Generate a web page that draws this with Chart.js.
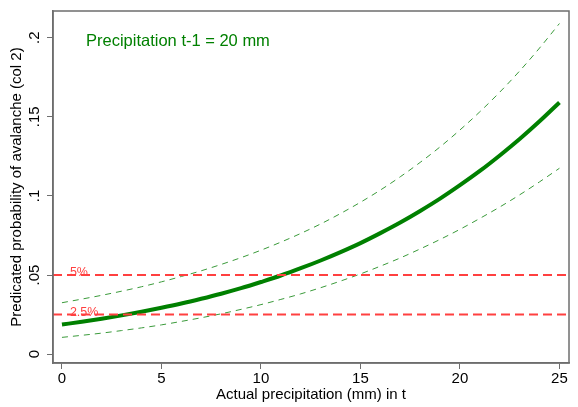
<!DOCTYPE html>
<html>
<head>
<meta charset="utf-8">
<script src="https://cdn.jsdelivr.net/npm/chart.js@4/dist/chart.umd.min.js"></script>
<style>
  html, body { margin: 0; padding: 0; background: #fff; }
  #wrap { width: 578px; height: 407px; }
</style>
</head>
<body>
<div id="wrap"><canvas id="chart" width="578" height="407"></canvas></div>
<script>
// precipitation in t (mm)
const precip = [0, 1, 2, 3, 4, 5, 6, 7, 8, 9, 10, 11, 12, 13, 14, 15, 16, 17, 18, 19, 20, 21, 22, 23, 24, 25]

// predicted probability and 95% band
const predicted = [0.0187, 0.0205, 0.0224, 0.0245, 0.0268, 0.0293, 0.0320, 0.0350, 0.0382, 0.0417, 0.0456, 0.0497, 0.0543, 0.0592, 0.0645, 0.0702, 0.0765, 0.0832, 0.0905, 0.0983, 0.1068, 0.1158, 0.1256, 0.1360, 0.1472, 0.1591]
const upper = [0.0325, 0.0348, 0.0372, 0.0398, 0.0426, 0.0457, 0.0491, 0.0527, 0.0567, 0.0610, 0.0657, 0.0708, 0.0763, 0.0823, 0.0889, 0.0960, 0.1037, 0.1121, 0.1212, 0.1310, 0.1417, 0.1532, 0.1656, 0.1790, 0.1935, 0.2090]
const lower = [0.0106, 0.0119, 0.0133, 0.0149, 0.0166, 0.0185, 0.0207, 0.0230, 0.0255, 0.0283, 0.0313, 0.0346, 0.0381, 0.0420, 0.0462, 0.0507, 0.0556, 0.0608, 0.0665, 0.0725, 0.0789, 0.0858, 0.0930, 0.1007, 0.1089, 0.1175]

// reference lines
const thresholds = [0.05, 0.025]
const thresholdLabels = ['5%', '2.5%']

// axes
const xTicks = [0, 5, 10, 15, 20, 25]
const yTicks = [0, 0.05, 0.1, 0.15, 0.2]
const yTickLabels = ['0', '.05', '.1', '.15', '.2']

const X_MIN = -0.45
const X_MAX = 25.48
const Y_MIN = -0.0056
const Y_MAX = 0.2169

const FONT = '"Liberation Sans", Arial, Helvetica, sans-serif'
const FRAME = '#6e6e6e'
const GREEN = '#008000'
const RED = '#ff4040'

const toPoints = (ys) => precip.map((x, i) => ({ x, y: ys[i] }))

const thresholdSets = thresholds.map((t) => ({
  data: [{ x: X_MIN, y: t }, { x: X_MAX, y: t }],
  borderColor: RED,
  borderWidth: 2,
  borderDash: [9, 5],
  pointRadius: 0
}))

// frame around the plot area, note and labels on the reference lines
const decorations = {
  id: 'decorations',
  afterDatasetsDraw (chart) {
    const { ctx, chartArea: a, scales } = chart
    ctx.save()
    ctx.strokeStyle = FRAME
    ctx.lineWidth = 1.5
    ctx.strokeRect(a.left, a.top, a.right - a.left, a.bottom - a.top)

    ctx.fillStyle = RED
    ctx.font = '12.5px ' + FONT
    ctx.textBaseline = 'alphabetic'
    thresholds.forEach((t, i) => {
      ctx.fillText(thresholdLabels[i], scales.x.getPixelForValue(0.4), scales.y.getPixelForValue(t) + 1)
    })

    ctx.fillStyle = GREEN
    ctx.font = '16.5px ' + FONT
    ctx.textBaseline = 'middle'
    ctx.fillText('Precipitation t-1 = 20 mm', a.left + 33, a.top + 30)
    ctx.restore()
  }
}

new Chart(document.getElementById('chart'), {
  type: 'line',
  data: {
    datasets: [
      ...thresholdSets,
      {
        data: toPoints(upper),
        borderColor: '#3a9a3a',
        borderWidth: 1,
        borderDash: [6, 5],
        pointRadius: 0,
        cubicInterpolationMode: 'monotone'
      },
      {
        data: toPoints(lower),
        borderColor: '#3a9a3a',
        borderWidth: 1,
        borderDash: [6, 5],
        pointRadius: 0,
        cubicInterpolationMode: 'monotone'
      },
      {
        data: toPoints(predicted),
        borderColor: GREEN,
        borderWidth: 4,
        pointRadius: 0,
        cubicInterpolationMode: 'monotone'
      }
    ]
  },
  options: {
    responsive: false,
    animation: false,
    layout: { padding: { left: 0, top: 7, right: 9, bottom: 0 } },
    plugins: {
      legend: { display: false },
      tooltip: { enabled: false }
    },
    scales: {
      x: {
        type: 'linear',
        min: X_MIN,
        max: X_MAX,
        afterBuildTicks: (scale) => { scale.ticks = xTicks.map((value) => ({ value })) },
        afterFit: (scale) => { scale.height = 44 },
        grid: { drawOnChartArea: false, tickLength: 6, tickColor: FRAME },
        border: { display: true, color: FRAME, width: 1.5 },
        ticks: {
          autoSkip: false,
          maxRotation: 0,
          padding: 1,
          color: '#000',
          font: { family: FONT, size: 15 }
        },
        title: {
          display: true,
          text: 'Actual precipitation (mm) in t',
          color: '#000',
          font: { family: FONT, size: 15 },
          padding: { top: 0, bottom: 3 }
        }
      },
      y: {
        type: 'linear',
        min: Y_MIN,
        max: Y_MAX,
        afterBuildTicks: (scale) => { scale.ticks = yTicks.map((value) => ({ value })) },
        afterFit: (scale) => { scale.width = 53 },
        grid: { drawOnChartArea: false, tickLength: 6, tickColor: FRAME },
        border: { display: true, color: FRAME, width: 1.5 },
        ticks: {
          autoSkip: false,
          minRotation: 90,
          maxRotation: 90,
          crossAlign: 'center',
          padding: 2,
          color: '#000',
          font: { family: FONT, size: 15 },
          callback: (value) => yTickLabels[yTicks.indexOf(value)]
        },
        title: {
          display: true,
          text: 'Predicated probability of avalanche (col 2)',
          color: '#000',
          font: { family: FONT, size: 15 },
          padding: { top: 8, bottom: 0 }
        }
      }
    }
  },
  plugins: [decorations]
})
</script>
</body>
</html>
